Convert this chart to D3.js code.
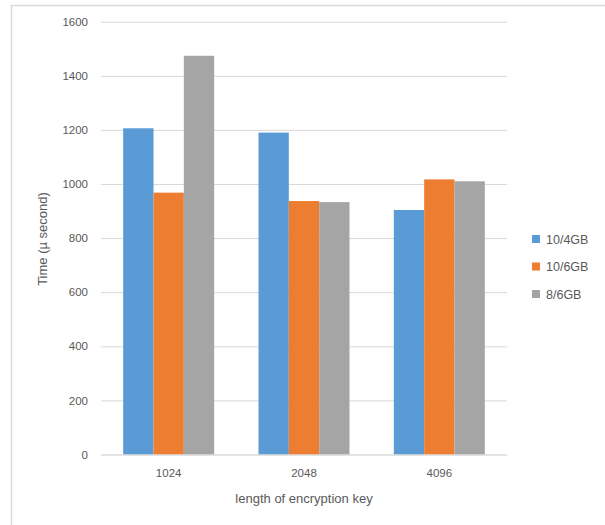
<!DOCTYPE html>
<html><head><meta charset="utf-8">
<script src="https://cdn.jsdelivr.net/npm/d3@7"></script>
<style>body{margin:0;background:#fff}</style>
</head><body>
<svg id="c" width="605" height="525"></svg>
<script>
const categories = ["1024", "2048", "4096"];
const seriesNames = ["10/4GB", "10/6GB", "8/6GB"];
const s104 = [1206, 1190, 904];
const s106 = [968, 937, 1017];
const s86 = [1474, 933, 1010];
const yTicks = [0, 200, 400, 600, 800, 1000, 1200, 1400, 1600];
const colors = ["#5b9bd5", "#ed7d31", "#a5a5a5"];
const series = [s104, s106, s86];

const svg = d3.select("#c");
const font = "'Liberation Sans', Arial, sans-serif";
// frame
svg.append("rect").attr("x", 11.5).attr("y", 5.5).attr("width", 600).attr("height", 530)
  .attr("fill", "none").attr("stroke", "#d9d9d9").attr("stroke-width", 1.5);

const x0 = d3.scaleBand().domain(categories).range([101, 507]).padding(0);
const groupW = 91;
const x1 = d3.scaleBand().domain(seriesNames).range([0, groupW]).padding(0);
const y = d3.scaleLinear().domain([0, 1600]).range([454.5, 21.7]);

// gridlines
const yAxis = d3.axisLeft(y).tickValues(yTicks).tickFormat(d3.format("d"))
  .tickSize(-(507 - 101)).tickPadding(13);
const gy = svg.append("g").attr("transform", "translate(101,0)").call(yAxis);
gy.select(".domain").remove();
gy.selectAll(".tick line").attr("stroke", "#d9d9d9").attr("stroke-width", 1);
gy.selectAll(".tick text").attr("fill", "#595959").style("font-family", font).style("font-size", "11.5px");

// bars
categories.forEach((c, ci) => {
  const off = x0(c) + (x0.bandwidth() - groupW) / 2;
  series.forEach((s, si) => {
    svg.append("rect")
      .attr("x", off + x1(seriesNames[si]))
      .attr("y", y(s[ci]))
      .attr("width", x1.bandwidth())
      .attr("height", y(0) - y(s[ci]))
      .attr("fill", colors[si]);
  });
});

// x axis
const xAxis = d3.axisBottom(x0).tickSize(0).tickPadding(14);
const gx = svg.append("g").attr("transform", "translate(0,454.5)").call(xAxis);
gx.select(".domain").attr("stroke", "#d9d9d9");
gx.selectAll(".tick text").attr("fill", "#595959").style("font-family", font).style("font-size", "11.5px");

// axis titles
svg.append("text").attr("x", 304).attr("y", 503).attr("text-anchor", "middle")
  .attr("fill", "#595959").style("font-family", font).style("font-size", "13px")
  .text("length of encryption key");
svg.append("text").attr("transform", "translate(47,239) rotate(-90)").attr("text-anchor", "middle")
  .attr("fill", "#595959").style("font-family", font).style("font-size", "13px")
  .text("Time (µ second)");

// legend
const lg = svg.append("g");
seriesNames.forEach((n, i) => {
  const cy = 239 + i * 27.5;
  lg.append("rect").attr("x", 532).attr("y", cy - 4).attr("width", 8).attr("height", 8).attr("fill", colors[i]);
  lg.append("text").attr("x", 546).attr("y", cy + 4.5).attr("fill", "#595959")
    .style("font-family", font).style("font-size", "12.5px").text(n);
});
</script>
</body></html>
